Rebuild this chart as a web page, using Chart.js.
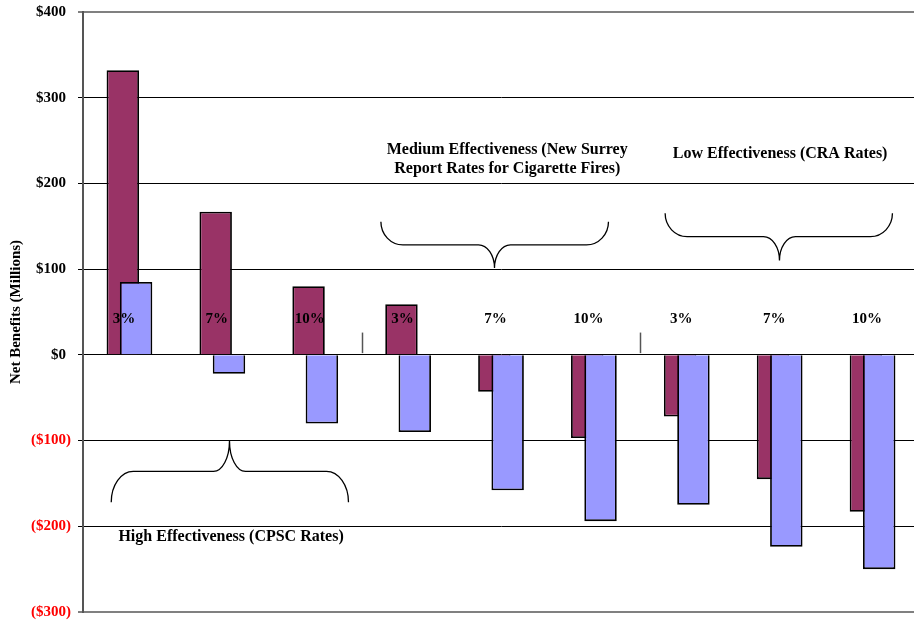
<!DOCTYPE html>
<html>
<head>
<meta charset="utf-8">
<script src="https://cdn.jsdelivr.net/npm/chart.js@4.4.1/dist/chart.umd.min.js"></script>
<style>
  html, body { margin: 0; padding: 0; background: #ffffff; overflow: hidden; }
  #wrap { position: relative; width: 920px; height: 624px; }
</style>
</head>
<body>
<div id="wrap"><canvas id="chart"></canvas></div>
<script>
// Discount rate for each bar pair
const rates = ['3%', '7%', '10%', '3%', '7%', '10%', '3%', '7%', '10%'];
// Net benefits, millions of dollars
const seriesOne = [332, 167, 80, 59, -43, -97, -72, -145, -183];
const seriesTwo = [85, -22, -80, -90, -158, -194, -175, -224, -250];
// Value axis ticks
const valueTicks = [400, 300, 200, 100, 0, -100, -200, -300];
// Effectiveness group captions
const groupCaptions = [
  ['High Effectiveness (CPSC Rates)'],
  ['Medium Effectiveness (New Surrey', 'Report Rates for Cigarette Fires)'],
  ['Low Effectiveness (CRA Rates)']
];
const axisTitle = 'Net Benefits (Millions)';

// Placement of captions and braces, in category-index / value units
const groupLayout = [
  { tx: 1.094, ty: -212, brace: { x0: -0.196, x1: 2.358, xt: 1.077, yEnd: -172, yMid: -136, yTip: -100.5 } },
  { tx: 4.067, ty: 239.3, brace: { x0: 2.707, x1: 5.157, xt: 3.93, yEnd: 155.3, yMid: 128.3, yTip: 101.2 } },
  { tx: 7.005, ty: 234, brace: { x0: 5.767, x1: 8.214, xt: 6.998, yEnd: 165.1, yMid: 137.9, yTip: 110 } }
];
const dividerAt = [2.5, 5.5];

const SERIF = '"Liberation Serif", "Times New Roman", serif';
const MAROON = '#993366';
const PERIWINKLE = '#9999ff';

function money(v) {
  const s = '$' + Math.abs(v).toLocaleString('en-US');
  return v < 0 ? '(' + s + ')' : s + '\u2004';
}

function drawBrace(ctx, xl, xr, xt, yE, yM, yT, rE, rT) {
  const k = 0.5523;
  ctx.beginPath();
  ctx.moveTo(xl, yE);
  ctx.bezierCurveTo(xl, yE + k * (yM - yE), xl + rE * (1 - k), yM, xl + rE, yM);
  ctx.lineTo(xt - rT, yM);
  ctx.bezierCurveTo(xt - rT * (1 - k), yM, xt, yT + k * (yM - yT), xt, yT);
  ctx.bezierCurveTo(xt, yT + k * (yM - yT), xt + rT * (1 - k), yM, xt + rT, yM);
  ctx.lineTo(xr - rE, yM);
  ctx.bezierCurveTo(xr - rE * (1 - k), yM, xr, yE + k * (yM - yE), xr, yE);
  ctx.stroke();
}

// Periwinkle bars sit in front of the maroon ones; draw them last,
// then the rate labels, braces and group captions.
const overlayPlugin = {
  id: 'overlay',
  beforeDatasetDraw(chart, args) {
    if (args.index === 1) return false;
  },
  afterDatasetsDraw(chart) {
    const ctx = chart.ctx;
    chart.getDatasetMeta(1).controller.draw();
    const xs = chart.scales.x, ys = chart.scales.y;

    ctx.save();
    // small dividers between effectiveness groups
    ctx.strokeStyle = '#555555';
    ctx.lineWidth = 1.5;
    dividerAt.forEach(d => {
      const x = Math.round(xs.getPixelForValue(d)) + 0.5;
      ctx.beginPath();
      ctx.moveTo(x, ys.getPixelForValue(26));
      ctx.lineTo(x, ys.getPixelForValue(2));
      ctx.stroke();
    });

    // rate labels
    ctx.fillStyle = '#000000';
    ctx.font = 'bold 15px ' + SERIF;
    ctx.textAlign = 'center';
    ctx.textBaseline = 'middle';
    rates.forEach((r, i) => {
      ctx.fillText(r, xs.getPixelForValue(i) - 5.5, ys.getPixelForValue(42));
    });

    // braces
    ctx.strokeStyle = '#000000';
    ctx.lineWidth = 1.3;
    groupLayout.forEach(g => {
      const b = g.brace;
      drawBrace(ctx,
        xs.getPixelForValue(b.x0), xs.getPixelForValue(b.x1), xs.getPixelForValue(b.xt),
        ys.getPixelForValue(b.yEnd), ys.getPixelForValue(b.yMid), ys.getPixelForValue(b.yTip),
        22, 16);
    });

    // captions
    ctx.font = 'bold 16px ' + SERIF;
    groupLayout.forEach((g, gi) => {
      const x = xs.getPixelForValue(g.tx);
      const y = ys.getPixelForValue(g.ty);
      groupCaptions[gi].forEach((line, li) => ctx.fillText(line, x, y + li * 19));
    });
    ctx.restore();
  },
  afterDraw(chart) {
    const ctx = chart.ctx;
    const a = chart.chartArea;
    ctx.save();
    ctx.translate(16.5, (a.top + a.bottom) / 2);
    ctx.rotate(-Math.PI / 2);
    ctx.font = 'bold 15px ' + SERIF;
    ctx.fillStyle = '#000000';
    ctx.textAlign = 'center';
    ctx.textBaseline = 'middle';
    ctx.fillText(axisTitle, 0, 0);
    ctx.restore();
  }
};

new Chart(document.getElementById('chart'), {
  type: 'bar',
  data: {
    labels: rates,
    datasets: [
      {
        label: 'Series 1',
        data: seriesOne,
        backgroundColor: MAROON,
        borderColor: '#000000',
        borderWidth: 1.8,
        categoryPercentage: 0.2863,
        barPercentage: 2.44
      },
      {
        label: 'Series 2',
        data: seriesTwo,
        backgroundColor: PERIWINKLE,
        borderColor: '#000000',
        borderWidth: 1.8,
        categoryPercentage: 0.2863,
        barPercentage: 2.44
      }
    ]
  },
  options: {
    responsive: true,
    maintainAspectRatio: false,
    animation: false,
    events: [],
    layout: { padding: { top: 12, bottom: 12, left: 0, right: 1 } },
    plugins: { legend: { display: false }, tooltip: { enabled: false }, title: { display: false } },
    scales: {
      x: { display: false, offset: true },
      y: {
        min: -300,
        max: 400,
        afterBuildTicks: s => { s.ticks = valueTicks.map(v => ({ value: v })); },
        afterFit: s => { s.width = 83; s.paddingTop = 0; s.paddingBottom = 0; },
        border: { display: true, color: '#555555', width: 2 },
        grid: {
          color: c => (c.tick && (c.tick.value === 400 || c.tick.value === -300)) ? '#808080' : '#000000',
          lineWidth: c => (c.tick && (c.tick.value === 400 || c.tick.value === -300)) ? 2 : 1,
          tickColor: '#000000',
          tickWidth: 1,
          tickLength: 5,
          drawTicks: true
        },
        ticks: {
          padding: 7,
          font: { family: SERIF, size: 15, weight: 'bold' },
          color: c => c.tick.value < 0 ? '#ff0000' : '#000000',
          callback: v => money(v)
        }
      }
    }
  },
  plugins: [overlayPlugin]
});
</script>
</body>
</html>
